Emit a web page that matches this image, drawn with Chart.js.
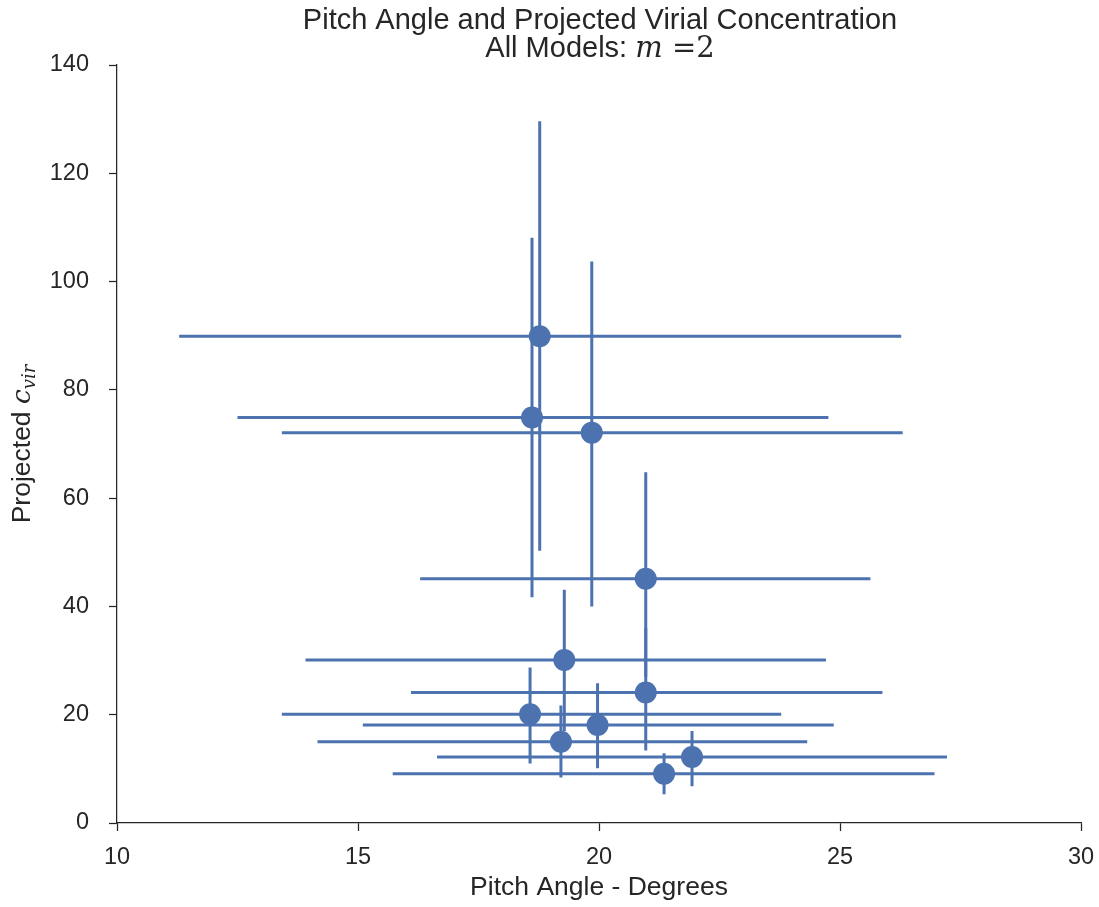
<!DOCTYPE html>
<html><head><meta charset="utf-8">
<script src="https://cdn.jsdelivr.net/npm/chart.js@4.4.1/dist/chart.umd.min.js"></script>
<style>html,body{margin:0;padding:0;background:#fff}</style>
</head><body>
<canvas id="c" width="1099" height="907" style="display:block"></canvas>
<script>
// Data
const pitchAngle = [18.77, 18.61, 19.85, 20.97, 19.28, 20.97, 18.57, 19.97, 19.21, 21.93, 21.35];
const cvir       = [89.9, 74.9, 72.1, 45.1, 30.1, 24.1, 20.1, 18.1, 15.0, 12.2, 9.1];
const pitchLow   = [11.29, 12.50, 13.42, 16.29, 13.91, 16.10, 13.42, 15.10, 14.16, 16.64, 15.72];
const pitchHigh  = [26.27, 24.76, 26.30, 25.63, 24.71, 25.88, 23.78, 24.87, 24.32, 27.22, 26.96];
const cvirLow    = [50.3, 41.7, 40.0, 27.0, 17.0, 13.4, 11.0, 10.1, 8.4, 6.8, 5.3];
const cvirHigh   = [129.6, 108.1, 103.7, 64.8, 43.1, 36.0, 28.7, 25.8, 21.7, 17.0, 12.9];
const xTicks = [10, 15, 20, 25, 30];
const yTicks = [0, 20, 40, 60, 80, 100, 120, 140];
const titleLine1 = 'Pitch Angle and Projected Virial Concentration';
const titleLine2 = 'All Models: ';
const xLabel = 'Pitch Angle - Degrees';
const yLabel = 'Projected ';

const BLUE = '#4C72B0';
const DARK = '#262626';
const SANS = '"Liberation Sans", Arial, sans-serif';
const SERIF = '"DejaVu Serif", "Liberation Serif", serif';

const points = pitchAngle.map((x, i) => ({x: x, y: cvir[i]}));

const errorBars = {
  id: 'errorBars',
  beforeDatasetsDraw(chart) {
    const {ctx, scales: {x, y}} = chart;
    ctx.save();
    ctx.strokeStyle = BLUE;
    ctx.lineWidth = 3;
    ctx.lineCap = 'butt';
    for (let i = 0; i < pitchAngle.length; i++) {
      const px = x.getPixelForValue(pitchAngle[i]);
      const py = y.getPixelForValue(cvir[i]);
      ctx.beginPath();
      ctx.moveTo(x.getPixelForValue(pitchLow[i]), py);
      ctx.lineTo(x.getPixelForValue(pitchHigh[i]), py);
      ctx.moveTo(px, y.getPixelForValue(cvirLow[i]));
      ctx.lineTo(px, y.getPixelForValue(cvirHigh[i]));
      ctx.stroke();
    }
    ctx.restore();
  }
};

const texts = {
  id: 'texts',
  afterDraw(chart) {
    const {ctx, chartArea: a} = chart;
    const cx = (a.left + a.right) / 2 + 1;
    ctx.save();
    ctx.fillStyle = DARK;
    ctx.textBaseline = 'alphabetic';
    // Title line 1
    ctx.font = '29px ' + SANS;
    ctx.textAlign = 'center';
    ctx.fillText(titleLine1, cx, 29);
    // Title line 2 with math
    ctx.textAlign = 'left';
    const sansF = '29px ' + SANS;
    const mItF = 'italic 29px ' + SERIF;
    const mF = '29px ' + SERIF;
    ctx.font = sansF; const w1 = ctx.measureText(titleLine2).width;
    ctx.font = mItF; const w2 = ctx.measureText('m').width;
    ctx.font = mF; const w3 = ctx.measureText(' =').width; const w4 = ctx.measureText('2').width;
    let sx = cx - (w1 + w2 + w3 + w4) / 2;
    ctx.font = sansF; ctx.fillText(titleLine2, sx, 57); sx += w1;
    ctx.font = mItF; ctx.fillText('m', sx, 57); sx += w2;
    ctx.font = mF; ctx.fillText(' =', sx, 57); sx += w3;
    ctx.fillText('2', sx, 57);
    // Y label
    ctx.translate(30, (a.top + a.bottom) / 2);
    ctx.rotate(-Math.PI / 2);
    const yF = '26.5px ' + SANS;
    const cF = 'italic 26.5px ' + SERIF;
    const sF = 'italic 18px ' + SERIF;
    ctx.font = yF; const a1 = ctx.measureText(yLabel).width;
    ctx.font = cF; const a2 = ctx.measureText('c').width;
    ctx.font = sF; const a3 = ctx.measureText('vir').width;
    let ly = -(a1 + a2 + a3) / 2;
    ctx.font = yF; ctx.fillText(yLabel, ly, 0); ly += a1;
    ctx.font = cF; ctx.fillText('c', ly, 0); ly += a2;
    ctx.font = sF; ctx.fillText('vir', ly, 5);
    ctx.restore();
  }
};

new Chart(document.getElementById('c'), {
  type: 'scatter',
  data: {
    datasets: [{
      data: points,
      backgroundColor: BLUE,
      borderColor: BLUE,
      borderWidth: 0,
      pointRadius: 11,
      pointHoverRadius: 11
    }]
  },
  options: {
    responsive: false,
    animation: false,
    devicePixelRatio: 1,
    events: [],
    layout: {padding: {top: 65, right: 18, left: 0, bottom: 0}},
    plugins: {legend: {display: false}, tooltip: {enabled: false}, title: {display: false}},
    scales: {
      x: {
        type: 'linear', min: 10, max: 30,
        afterBuildTicks(s) { s.ticks = xTicks.map(v => ({value: v})); },
        afterFit(s) { s.height = 84; s.paddingLeft = 0; s.paddingRight = 0; },
        ticks: {color: DARK, font: {family: SANS, size: 23.5}, padding: 12, maxRotation: 0, autoSkip: false},
        grid: {display: true, drawOnChartArea: false, drawTicks: true, tickLength: 8, tickWidth: 1.25, tickColor: DARK},
        border: {display: true, color: DARK, width: 1.25},
        title: {display: true, text: xLabel, color: DARK, font: {family: SANS, size: 26.5}, padding: {top: 0, bottom: 3}}
      },
      y: {
        type: 'linear', min: 0, max: 140,
        afterBuildTicks(s) { s.ticks = yTicks.map(v => ({value: v})); },
        afterFit(s) { s.width = 117; s.paddingTop = 0; s.paddingBottom = 0; },
        ticks: {color: DARK, font: {family: SANS, size: 23.5}, padding: 20, autoSkip: false},
        grid: {display: true, drawOnChartArea: false, drawTicks: true, tickLength: 8, tickWidth: 1.25, tickColor: DARK},
        border: {display: true, color: DARK, width: 1.25}
      }
    }
  },
  plugins: [errorBars, texts]
});
</script>
</body></html>
